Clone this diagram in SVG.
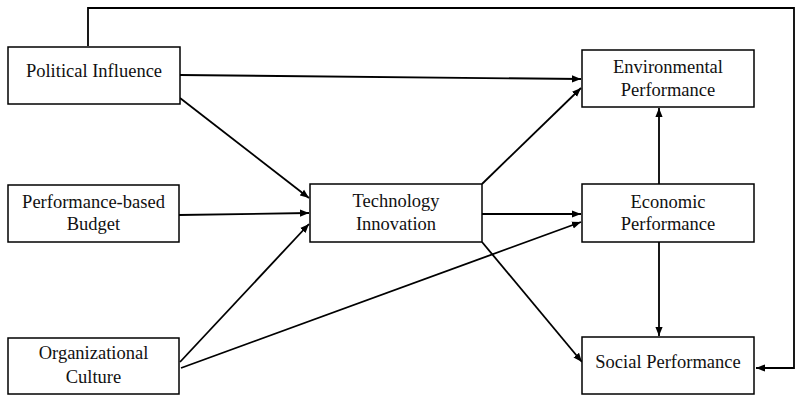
<svg xmlns="http://www.w3.org/2000/svg" width="795" height="395" viewBox="0 0 795 395">
<style>
.box{fill:#fff;stroke:#000;stroke-width:1.5}
.t{font-family:"Liberation Serif","Times New Roman","DejaVu Serif",serif;font-size:18.5px;fill:#111;text-anchor:middle}
.c{fill:none;stroke:#000;stroke-width:1.8}
</style>
<defs>
<marker id="ah" viewBox="0 0 10 10" refX="10" refY="5" markerWidth="5" markerHeight="5" orient="auto" markerUnits="strokeWidth">
<path d="M0,1 L10,5 L0,9 z" fill="#000"/>
</marker>
</defs>
<rect width="795" height="395" fill="#fff"/>
<g id="connectors">
<path class="c" d="M88,46 V8 H794 V368 H756" marker-end="url(#ah)"/>
<path class="c" d="M180,75 L581,79" marker-end="url(#ah)"/>
<path class="c" d="M180,98 L309,198" marker-end="url(#ah)"/>
<path class="c" d="M179,215 L309,213" marker-end="url(#ah)"/>
<path class="c" d="M180,362 L309,224" marker-end="url(#ah)"/>
<path class="c" d="M181,368 L581,222" marker-end="url(#ah)"/>
<path class="c" d="M482,184 L581,88" marker-end="url(#ah)"/>
<path class="c" d="M482,214 L581,214" marker-end="url(#ah)"/>
<path class="c" d="M482,242 L582,362" marker-end="url(#ah)"/>
<path class="c" d="M659,184 L659,108" marker-end="url(#ah)"/>
<path class="c" d="M659,242 L659,336" marker-end="url(#ah)"/>
</g>
<g id="political-influence">
<rect class="box" x="8" y="47" width="172" height="57"/>
<text class="t" x="94" y="77">Political Influence</text>
</g>
<g id="performance-based-budget">
<rect class="box" x="8" y="185" width="171" height="57"/>
<text class="t" x="93.5" y="208">Performance-based</text>
<text class="t" x="93.5" y="230">Budget</text>
</g>
<g id="organizational-culture">
<rect class="box" x="8" y="338" width="171" height="56"/>
<text class="t" x="93.5" y="359">Organizational</text>
<text class="t" x="93.5" y="383">Culture</text>
</g>
<g id="technology-innovation">
<rect class="box" x="310" y="184" width="172" height="58"/>
<text class="t" x="396" y="207">Technology</text>
<text class="t" x="396" y="230">Innovation</text>
</g>
<g id="environmental-performance">
<rect class="box" x="582" y="50" width="172" height="57"/>
<text class="t" x="668" y="73">Environmental</text>
<text class="t" x="668" y="96">Performance</text>
</g>
<g id="economic-performance">
<rect class="box" x="582" y="184" width="172" height="58"/>
<text class="t" x="668" y="208">Economic</text>
<text class="t" x="668" y="230">Performance</text>
</g>
<g id="social-performance">
<rect class="box" x="582" y="337" width="172" height="57"/>
<text class="t" x="668" y="368">Social Performance</text>
</g>
</svg>
